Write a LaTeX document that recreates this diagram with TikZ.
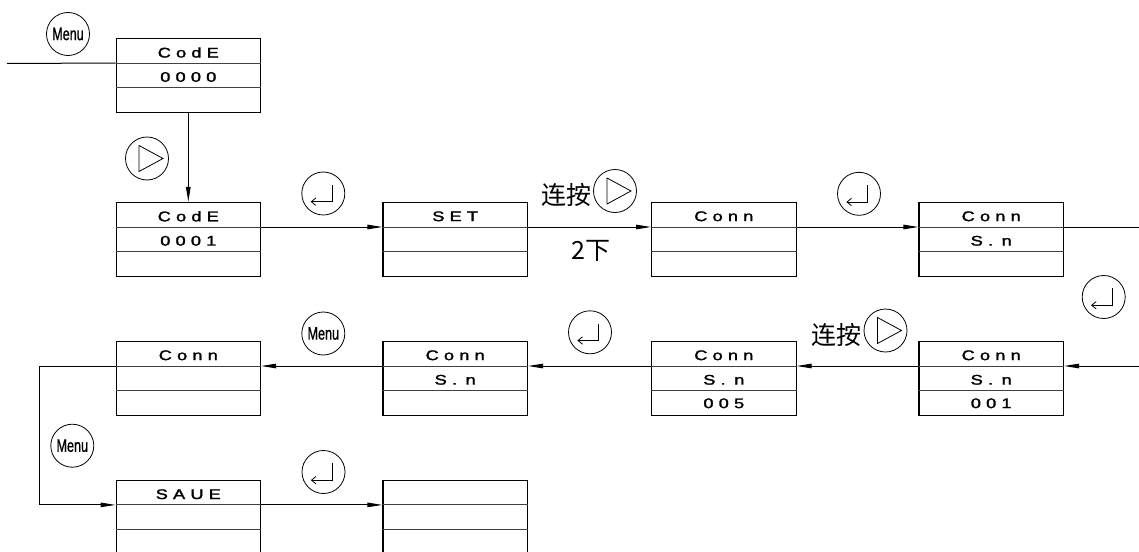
\documentclass[tikz,border=0pt]{standalone}
\usepackage{graphicx}
\usepackage{fontspec}
\setmainfont{Liberation Sans}
\newfontfamily\boxfont[FakeBold=1.6]{Liberation Sans}
\newfontfamily\menufont[FakeBold=1.2]{Liberation Sans}
\newfontfamily\cjk{Noto Sans CJK SC}
\usetikzlibrary{arrows.meta}
\newlength\lsp
\setlength\lsp{4pt}
\def\xg{\kern-1.4pt}
\def\spcaux#1{\ifx\relax#1\else\kern\lsp#1\expandafter\spcaux\fi}
\def\btfirst#1{#1\spcaux}
\newcommand\bt[1]{\scalebox{1.3}[1]{\boxfont\fontsize{14}{14}\selectfont\btfirst#1\relax}}
\newcommand\menutxt{\scalebox{0.7}[1]{\menufont\fontsize{18}{18}\selectfont Menu}}
\tikzset{
  dbox/.style={draw, line width=1.1pt, minimum width=144.5pt, minimum height=73.7pt, inner sep=0pt},
  rowline/.style={line width=1pt, black!75},
  btxt/.style={inner sep=0pt},
  conn/.style={line width=1pt},
  arr/.style={-{Triangle[length=15pt,width=4.5pt]}},
  btn/.style={draw, circle, line width=0.8pt, minimum size=43pt, inner sep=0pt},
  sym/.style={line width=0.8pt},
  cjkl/.style={inner sep=0pt, font=\cjk\fontsize{25}{25}\selectfont},
}
\newcommand\dispbox[6]{%
  \node[dbox] (#1) at (#2,#3) {};
  \draw[rowline] ([yshift=12.3pt]#1.west) -- ([yshift=12.3pt]#1.east);
  \draw[rowline] ([yshift=-12.3pt]#1.west) -- ([yshift=-12.3pt]#1.east);
  \node[btxt] (#1-1) at ([yshift=23pt]#1.center) {#4};
  \node[btxt] (#1-2) at ([yshift=-1.5pt]#1.center) {#5};
  \node[btxt] (#1-3) at ([yshift=-25pt]#1.center) {#6};
  \coordinate (#1-l) at ([yshift=12.3pt]#1.west);
  \coordinate (#1-r) at ([yshift=12.3pt]#1.east);
}
\newcommand\playbtn[3]{%
  \node[btn] (#1) at (#2,#3) {};
  \draw[sym,shift={(#1.center)}] (-8,-13) -- (16,0) -- (-8,13) -- cycle;
}
\newcommand\enterbtn[3]{%
  \node[btn] (#1) at (#2,#3) {};
  \draw[sym,shift={(#1.center)}] (8.8,-8.6) -- (8.8,8.2) -- (-12,8.2);
  \draw[sym,shift={(#1.center)}] (-7.5,4.5) -- (-12,8.2) -- (-7.5,11.9);
}
\begin{document}
\begin{tikzpicture}[x=1pt,y=-1pt]
\clip (0,0) rectangle (1139,551);
% boxes
\dispbox{b0}{188.3}{75.5}{\bt{CodE}}{\bt{0000}}{}
\dispbox{b1}{188.3}{239.3}{\bt{CodE}}{\bt{0001}}{}
\dispbox{b2}{455.2}{239.3}{\bt{SET}}{}{}
\dispbox{b3}{723.8}{239.3}{\bt{Conn}}{}{}
\dispbox{b4}{991.2}{239.3}{\bt{Conn}}{\bt{S.\xg n}}{}
\dispbox{b8}{991.2}{378.3}{\bt{Conn}}{\bt{S.\xg n}}{\bt{001}}
\dispbox{b7}{723.8}{378.3}{\bt{Conn}}{\bt{S.\xg n}}{\bt{005}}
\dispbox{b6}{455.2}{378.3}{\bt{Conn}}{\bt{S.\xg n}}{}
\dispbox{b5}{188.3}{378.3}{\bt{Conn}}{}{}
\dispbox{b9}{188.3}{517.2}{\bt{SAUE}}{}{}
\dispbox{b10}{455.2}{517.2}{}{}{}
% free ends
\coordinate (in0) at (7,63.3);
\coordinate (edge) at (1145,0);
\coordinate (lp) at (39.3,0);
% connectors
\draw[conn] (in0) -- (b0-l);
\draw[conn,arr] (b0.south) -- (b1.north);
\draw[conn,arr] (b1-r) -- (b2-l);
\draw[conn,arr] (b2-r) -- (b3-l);
\draw[conn,arr] (b3-r) -- (b4-l);
\draw[conn] (b4-r) -- (b4-r -| edge);
\draw[conn,arr] (b8-r -| edge) -- (b8-r);
\draw[conn,arr] (b8-l) -- (b7-r);
\draw[conn,arr] (b7-l) -- (b6-r);
\draw[conn,arr] (b6-l) -- (b5-r);
\draw[conn,arr] (b5-l) -- (b5-l -| lp) -- (b9-l -| lp) -- (b9-l);
\draw[conn,arr] (b9-r) -- (b10-l);
% buttons
\node[btn] (m1) at (68,34) {\menutxt};
\playbtn{p1}{147}{158.5}
\enterbtn{e1}{323.3}{193.5}
\playbtn{p2}{615}{191}
\enterbtn{e2}{859}{193.8}
\enterbtn{e3}{1103.7}{297}
\playbtn{p3}{885.5}{330.5}
\enterbtn{e4}{590}{332.3}
\node[btn] (m2) at (323.3,333.5) {\menutxt};
\node[btn] (m3) at (72.3,445.7) {\menutxt};
\enterbtn{e5}{323.5}{472}
% labels
\node[cjkl] (l1) at (566,195) {连按};
\node[cjkl] (l2) at (591,250.5) {2下};
\node[cjkl] (l3) at (836.7,335) {连按};
\end{tikzpicture}
\end{document}
